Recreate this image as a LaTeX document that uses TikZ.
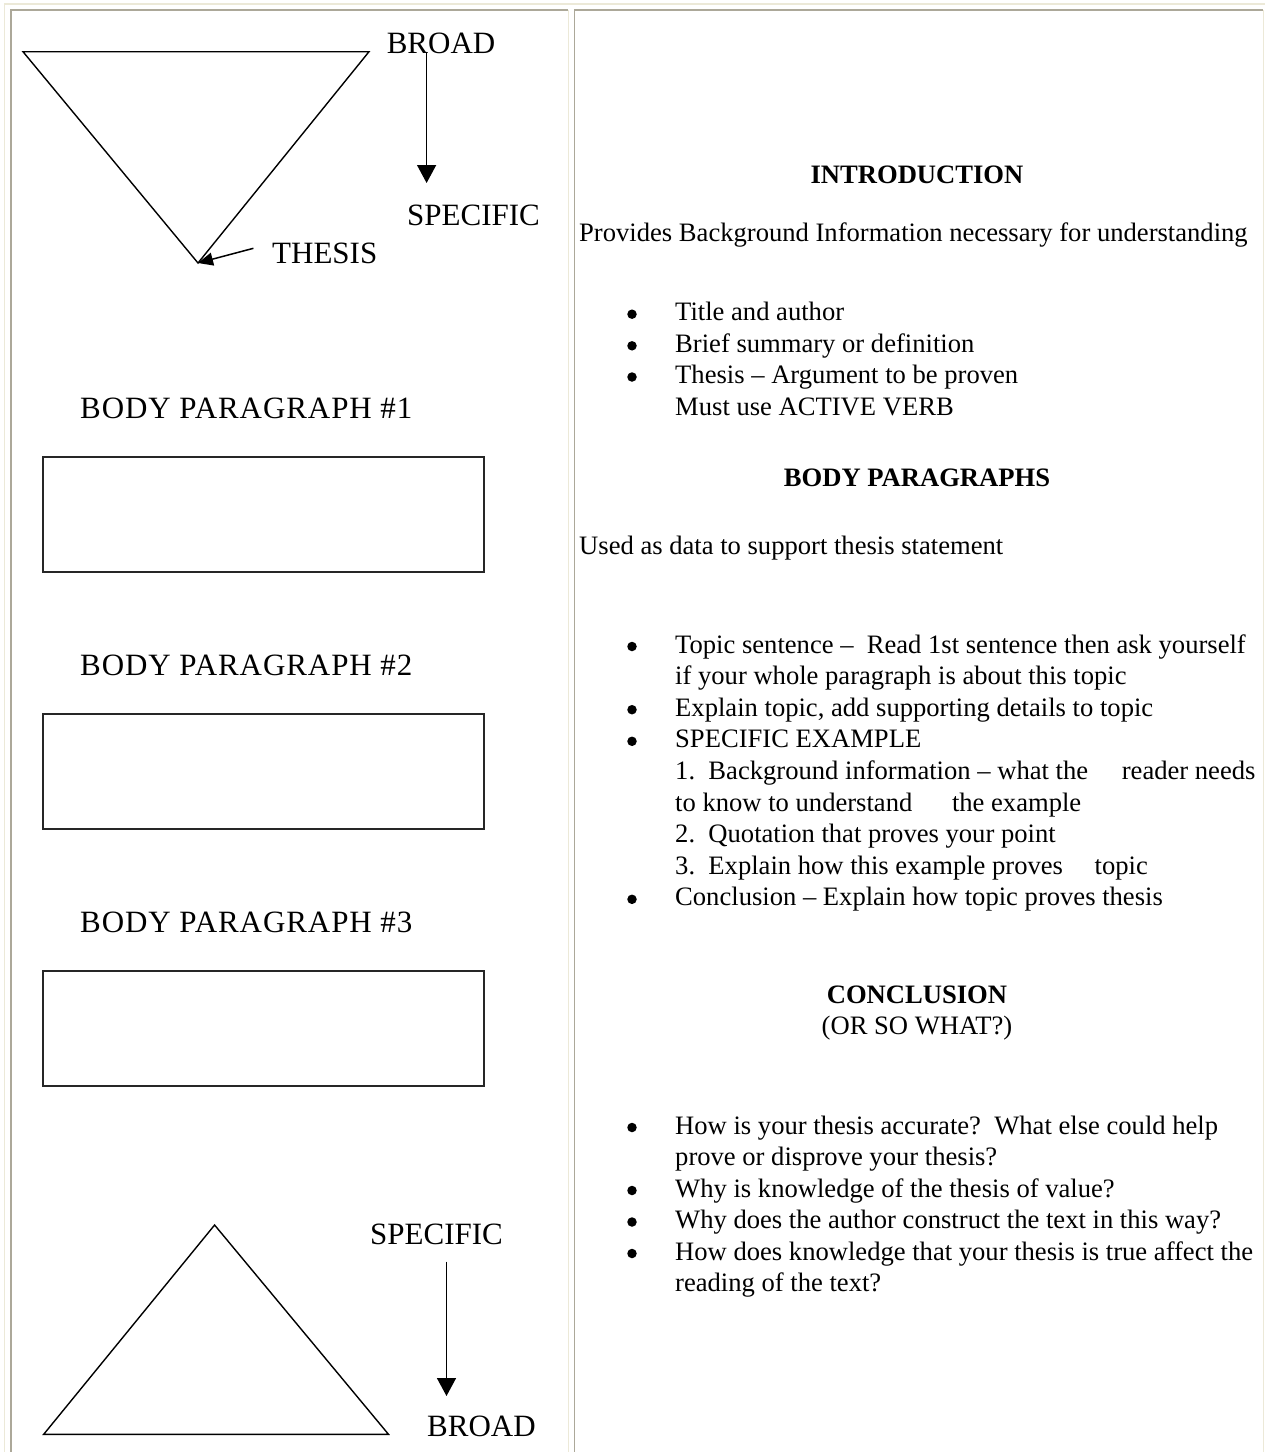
\documentclass[tikz,border=0pt]{standalone}
\usepackage{fontspec}
\setmainfont{Liberation Serif}
\newfontfamily\drawfont[LetterSpace=3]{Liberation Serif}
\usetikzlibrary{arrows.meta, positioning}
\definecolor{cellgray}{HTML}{ACA899}
\definecolor{celllight}{HTML}{ECE9D8}
\tikzset{
    lbl/.style={font=\fontsize{31}{36}\selectfont, inner sep=0pt, anchor=base west},
    bplbl/.style={font=\drawfont\fontsize{31}{36}\selectfont, inner sep=0pt, anchor=base west},
    txt/.style={font=\fontsize{26.6}{31}\selectfont, inner sep=0pt, anchor=base west},
    head/.style={font=\fontsize{26.6}{31}\selectfont\bfseries, inner sep=0pt, anchor=base},
    ctr/.style={font=\fontsize{26.6}{31}\selectfont, inner sep=0pt, anchor=base},
    bullet/.style={circle, fill=black, inner sep=0pt, minimum size=9.5pt},
    parabox/.style={draw=black!85, line width=2pt, minimum width=441pt, minimum height=115pt, anchor=north west, inner sep=0pt},
    arrow/.style={line width=1.5pt, -{Triangle[width=19pt, length=18pt]}},
    tri/.style={line width=1.4pt, line join=miter},
    rule/.style={line width=1.7pt}
}

\begin{document}
\begin{tikzpicture}[x=1pt, y=-1pt]
            \useasboundingbox (0,0) rectangle (1265,1452);
            \fill[white] (0,0) rectangle (1265,1452);

            % table frame
            \draw[rule, celllight] (4.5,1452) -- (4.5,4) -- (1265,4);
            \draw[rule, cellgray] (11,1452) -- (11,10) -- (568,10);
            \draw[rule, celllight] (568.5,10) -- (568.5,1452);
            \draw[rule, cellgray] (574.5,1452) -- (574.5,10) -- (1263,10);
            \draw[rule, celllight] (1263.5,10) -- (1263.5,1452);

            % introduction funnel
            \coordinate (tl) at (23,51.7);
            \coordinate (tr) at (369,51.7);
            \coordinate (tip) at (198,263);
            \draw[tri] (tl) -- (tr) -- (tip) -- cycle;
            \node[lbl] (broad) at (386.6,53.3) {BROAD};
            \node[lbl] (specific) at (407,225) {SPECIFIC};
            \node[lbl] (thesis) at (272,263) {THESIS};
            \coordinate (down1) at (426.6,53.3);
            \coordinate (down1end) at (426.6,183);
            \draw[arrow] (down1) -- (down1end);
            \coordinate (thesisarr) at (253.4,248.3);
            \draw[line width=1.5pt, -{Triangle[width=13pt, length=15pt]}] (thesisarr) -- (tip);

            % body paragraphs
            \node[bplbl] (bp1) at (80,418) {BODY PARAGRAPH \#1};
            \node[parabox] (box1) at (42,456) {};
            \node[bplbl] (bp2) at (80,675) {BODY PARAGRAPH \#2};
            \node[parabox] (box2) at (42,713) {};
            \node[bplbl] (bp3) at (80,932) {BODY PARAGRAPH \#3};
            \node[parabox] (box3) at (42,970) {};

            % conclusion pyramid
            \coordinate (apex) at (214.6,1225);
            \coordinate (bl) at (43.7,1434.3);
            \coordinate (br) at (388.5,1434.3);
            \draw[tri] (apex) -- (br) -- (bl) -- cycle;
            \node[lbl] (specific2) at (370,1244.3) {SPECIFIC};
            \node[lbl] (broad2) at (427,1436) {BROAD};
            \coordinate (down2) at (446.5,1261.7);
            \coordinate (down2end) at (446.5,1396);
            \draw[arrow] (down2) -- (down2end);

            % right column
            \node[head] (intro) at (917,183) {INTRODUCTION};
            \node[txt] (provides) at (579,241.7) {Provides Background Information necessary for understanding};
            \node[bullet] (d1) at (632,314.2) {};
            \node[txt] (i1) at (675,320.7) {Title and author};
            \node[bullet] (d2) at (632,345.8) {};
            \node[txt] (i2) at (675,352.3) {Brief summary or definition};
            \node[bullet] (d3) at (632,377) {};
            \node[txt] (i3) at (675,383.5) {Thesis – Argument to be proven};
            \node[txt] (i3b) at (675,415) {Must use ACTIVE VERB};

            \node[head] (bodyhead) at (917,486) {BODY PARAGRAPHS};
            \node[txt] (used) at (579,554) {Used as data to support thesis statement};
            \node[bullet] (d4) at (632,646.5) {};
            \node[txt] (j1) at (675,653) {Topic sentence –\ \ Read 1st sentence then ask yourself};
            \node[txt] (j1b) at (675,684.6) {if your whole paragraph is about this topic};
            \node[bullet] (d5) at (632,709.7) {};
            \node[txt] (j2) at (675,716.2) {Explain topic, add supporting details to topic};
            \node[bullet] (d6) at (632,741.3) {};
            \node[txt] (j3) at (675,747.8) {SPECIFIC EXAMPLE};
            \node[txt] (j3a) at (675,779.4) {1.\ \ Background information – what the\hspace{27pt} reader needs};
            \node[txt] (j3b) at (675,811) {to know to understand\hspace{33pt} the example};
            \node[txt] (j3c) at (675,842.6) {2.\ \ Quotation that proves your point};
            \node[txt] (j3d) at (675,874.2) {3.\ \ Explain how this example proves\hspace{25pt} topic};
            \node[bullet] (d7) at (632,899.3) {};
            \node[txt] (j4) at (675,905.8) {Conclusion – Explain how topic proves thesis};

            \node[head] (conchead) at (917,1003) {CONCLUSION};
            \node[ctr] (sowhat) at (917,1034) {(OR SO WHAT?)};
            \node[bullet] (d8) at (632,1127.5) {};
            \node[txt] (k1) at (675,1134) {How is your thesis accurate?\ \ What else could help};
            \node[txt] (k1b) at (675,1165.5) {prove or disprove your thesis?};
            \node[bullet] (d9) at (632,1190.5) {};
            \node[txt] (k2) at (675,1197) {Why is knowledge of the thesis of value?};
            \node[bullet] (d10) at (632,1222) {};
            \node[txt] (k3) at (675,1228.5) {Why does the author construct the text in this way?};
            \node[bullet] (d11) at (632,1253.5) {};
            \node[txt] (k4) at (675,1260) {How does knowledge that your thesis is true affect the};
            \node[txt] (k4b) at (675,1291.5) {reading of the text?};
        \end{tikzpicture}
\end{document}
